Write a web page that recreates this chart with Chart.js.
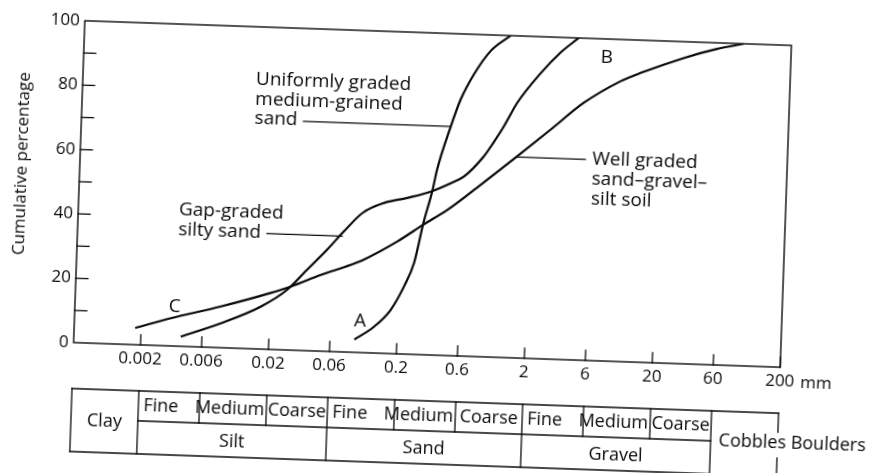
<!DOCTYPE html>
<html><head><meta charset="utf-8">
<script src="https://cdn.jsdelivr.net/npm/chart.js@4.4.1/dist/chart.umd.min.js"></script>
<style>
html,body{margin:0;padding:0;background:#fff;overflow:hidden;width:877px;height:473px;}
#wrap{position:absolute;left:0;top:0;width:877px;height:473px;transform:rotate(2deg);transform-origin:432.7px 194.3px;}
canvas{display:block;background:#fff;}
</style></head><body>
<div id="wrap"><canvas id="c" width="877" height="473"></canvas></div>
<script>
// ---- data (grain size in mm, cumulative percentage) ----
const xTickValues = [0.002, 0.006, 0.02, 0.06, 0.2, 0.6, 2, 6, 20, 60, 200];
const xTickLabels = ['0.002', '0.006', '0.02', '0.06', '0.2', '0.6', '2', '6', '20', '60', '200'];
const yTickValues = [0, 20, 40, 60, 80, 100];
const yTickMarks = [10, 20, 30, 40, 50, 60, 70, 80, 90];

// A: uniformly graded medium-grained sand
const sizeA = [0.093, 0.13, 0.175, 0.22, 0.26, 0.30, 0.345, 0.37, 0.46, 0.54, 0.675, 0.9, 1.28];
const pctA  = [4, 8, 13.5, 21, 28.5, 41, 51, 57.5, 71, 79.5, 87.5, 95, 100];
// B: gap-graded silty sand
const sizeB = [0.0041, 0.0084, 0.017, 0.027, 0.038, 0.054, 0.072, 0.10, 0.146, 0.22, 0.34, 0.48, 0.60, 0.85, 1.0, 1.2, 1.5, 2.25, 3.15, 4.35];
const pctB  = [3, 7.6, 13.2, 18.7, 25.1, 31.6, 37.4, 43.4, 46.7, 48.5, 50.8, 53.6, 55.7, 62.2, 66.5, 71.8, 79.2, 88.7, 95.2, 100];
// C: well graded sand-gravel-silt soil
const sizeC = [0.0018, 0.0034, 0.0083, 0.020, 0.029, 0.049, 0.083, 0.105, 0.19, 0.30, 0.46, 0.82, 1.55, 2.77, 4.95, 9.45, 13.5, 29, 52.5, 85];
const pctC  = [5.2, 8.6, 12.8, 17.5, 19.8, 23.7, 27.1, 28.9, 34.9, 40.4, 45.3, 53.4, 62.6, 71.2, 79.9, 87, 89.8, 94.9, 98.1, 100];

// classification table
const subLabels = ['Fine', 'Medium', 'Coarse'];
const groupNames = ['Silt', 'Sand', 'Gravel'];
const clayLabel = 'Clay';
const bigLabel = 'Cobbles Boulders';
const yTitle = 'Cumulative percentage';

const FONT = "'Open Sans', 'Liberation Sans', Arial, sans-serif";
const W = '500 ';
const INK = '#0a0a0a';

const toPts = (xs, ys) => xs.map((v, i) => ({x: v, y: ys[i]}));

const overlay = {
  id: 'overlay',
  afterDraw(chart) {
    const {ctx, chartArea: a, scales: {x, y}} = chart;
    const H = chart.height;
    const line = (x1, y1, x2, y2) => { ctx.beginPath(); ctx.moveTo(x1, y1); ctx.lineTo(x2, y2); ctx.stroke(); };
    const text = (s, px, py, align) => { ctx.textAlign = align || 'left'; ctx.fillText(s, px, py); };
    ctx.save();
    ctx.strokeStyle = INK; ctx.fillStyle = INK; ctx.lineCap = 'square';
    // frame
    ctx.lineWidth = 1.4;
    ctx.strokeRect(a.left, a.top, a.right - a.left, a.bottom - a.top);
    // inward tick marks
    ctx.lineWidth = 1.3;
    yTickMarks.forEach(v => { const py = y.getPixelForValue(v); line(a.left, py, a.left + 12, py); });
    xTickValues.forEach(v => { const px = x.getPixelForValue(v); line(px, a.bottom, px, a.bottom - 10); });

    ctx.textBaseline = 'middle';
    // y-axis title
    ctx.save();
    ctx.font = W + '17px ' + FONT;
    ctx.translate(21, (a.top + a.bottom) / 2 - 16);
    ctx.rotate(-Math.PI / 2);
    text(yTitle, 0, 0, 'center');
    ctx.restore();

    // unit after last tick label
    ctx.font = W + '17px ' + FONT;
    const p200 = x.getPixelForValue(200);
    const w200 = ctx.measureText('200').width;
    text('mm', p200 + w200 / 2 + 6, a.bottom + 15, 'left');

    // curve annotations
    ctx.font = W + '19px ' + FONT;
    const LH = 19.5;
    let px = x.getPixelForValue(0.0135), py = y.getPixelForValue(83.6);
    text('Uniformly graded', px, py);
    text('medium-grained', px, py + LH);
    text('sand', px, py + 2 * LH);
    let wend = px + ctx.measureText('sand').width + 6;
    line(wend, py + 2 * LH + 1, x.getPixelForValue(0.46), py + 2 * LH + 1);

    px = x.getPixelForValue(0.00367); py = y.getPixelForValue(42.4);
    text('Gap-graded', px, py);
    text('silty sand', px, py + 20);
    wend = px + ctx.measureText('silty sand').width + 6;
    line(wend, py + 20 + 1, x.getPixelForValue(0.07), py + 20 + 1);

    px = x.getPixelForValue(6.0); py = y.getPixelForValue(62.4);
    text('Well graded', px, py);
    text('sand\u2013gravel\u2013', px, py + 20);
    text('silt soil', px, py + 40);
    line(x.getPixelForValue(1.55), py, px - 7, py);

    text('A', x.getPixelForValue(0.102), y.getPixelForValue(9.6), 'center');
    text('B', x.getPixelForValue(7.3), y.getPixelForValue(94.1), 'center');
    text('C', x.getPixelForValue(0.0036), y.getPixelForValue(12.3), 'center');

    // classification table
    const t0 = a.bottom + 46, t1 = a.bottom + 76, t2 = a.bottom + 109;
    const bx = xTickValues.map(v => x.getPixelForValue(v));
    const L = a.left;
    ctx.lineWidth = 1.3;
    line(L, t0, bx[10], t0);
    line(bx[0], t1, bx[9], t1);
    line(L, t2, bx[9], t2);
    line(L, t0, L, t2);
    [0, 3, 6].forEach(i => line(bx[i], t0, bx[i], t2));
    [1, 2, 4, 5, 7, 8].forEach(i => line(bx[i], t0, bx[i], t1));
    line(bx[9], t0, bx[9], H);
    line(bx[10], t0, bx[10], t0 + 19);
    line(bx[10], t0 + 45, bx[10], H);

    ctx.font = W + '18px ' + FONT;
    text(clayLabel, (L + bx[0]) / 2, (t0 + t2) / 2, 'center');
    for (let g = 0; g < 3; g++) {
      const b0 = bx[g * 3], b2 = bx[g * 3 + 2], b3 = bx[g * 3 + 3];
      const ym = (t0 + t1) / 2;
      text(subLabels[0], b0 + 5, ym, 'left');
      text(subLabels[1], b2 - 2, ym, 'right');
      text(subLabels[2], (b2 + b3) / 2, ym, 'center');
      text(groupNames[g], (b0 + b3) / 2, (t1 + t2) / 2 + 1, 'center');
    }
    text(bigLabel, bx[9] + 8, (t0 + t2) / 2 - 2, 'left');
    ctx.restore();
  }
};

new Chart(document.getElementById('c'), {
  type: 'line',
  data: {
    datasets: [
      {label: 'Uniformly graded medium-grained sand', data: toPts(sizeA, pctA)},
      {label: 'Gap-graded silty sand', data: toPts(sizeB, pctB)},
      {label: 'Well graded sand-gravel-silt soil', data: toPts(sizeC, pctC)}
    ]
  },
  options: {
    responsive: false,
    animation: false,
    devicePixelRatio: 1,
    layout: {padding: {left: 0, right: 91, top: 33, bottom: 0}},
    plugins: {legend: {display: false}, tooltip: {enabled: false}},
    elements: {
      point: {radius: 0},
      line: {borderWidth: 2.2, borderColor: INK, cubicInterpolationMode: 'monotone', fill: false}
    },
    scales: {
      x: {
        type: 'logarithmic', min: 0.00063, max: 200,
        afterBuildTicks: s => { s.ticks = xTickValues.map(v => ({value: v})); },
        afterFit: s => { s.height = 118; },
        grid: {display: false, drawTicks: false},
        border: {display: false},
        ticks: {autoSkip: false, maxRotation: 0, padding: 4, color: INK,
                font: {family: FONT, size: 17, weight: '500'},
                callback: (v, i) => xTickLabels[i]}
      },
      y: {
        type: 'linear', min: 0, max: 100,
        afterBuildTicks: s => { s.ticks = yTickValues.map(v => ({value: v})); },
        afterFit: s => { s.width = 79; },
        grid: {display: false, drawTicks: false},
        border: {display: false},
        ticks: {padding: 5, color: INK, font: {family: FONT, size: 17, weight: '500'}},
        title: {display: false}
      }
    }
  },
  plugins: [overlay]
});
</script>
</body></html>
